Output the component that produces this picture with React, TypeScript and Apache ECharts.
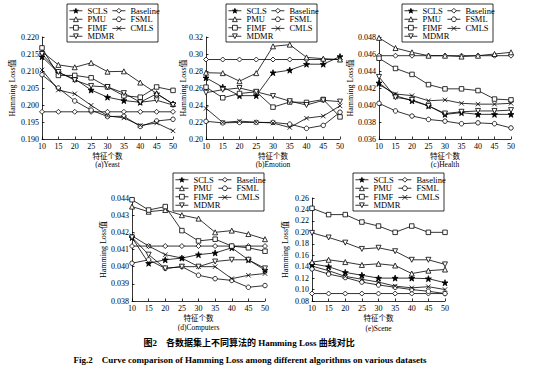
import React, { useEffect, useRef } from "react";
import * as echarts from "echarts";

// ---------- data ----------
const featureCounts = [10, 15, 20, 25, 30, 35, 40, 45, 50];

// (a) Yeast
const yeastSCLS = [0.2142, 0.2095, 0.2077, 0.2044, 0.2023, 0.2013, 0.2008, 0.2033, 0.2003];
const yeastBaseline = [0.198, 0.198, 0.198, 0.198, 0.198, 0.198, 0.198, 0.198, 0.198];
const yeastPMU = [0.2157, 0.2118, 0.2111, 0.2124, 0.2098, 0.2099, 0.2066, 0.2034, 0.2003];
const yeastFSML = [0.2089, 0.205, 0.2012, 0.1985, 0.1966, 0.1967, 0.1937, 0.1953, 0.1958];
const yeastFIMF = [0.2168, 0.2087, 0.2087, 0.208, 0.2053, 0.2027, 0.2023, 0.2053, 0.2043];
const yeastCMLS = [0.2103, 0.2044, 0.2033, 0.1999, 0.1968, 0.1962, 0.194, 0.1947, 0.1924];
const yeastMDMR = [0.215, 0.2097, 0.2073, 0.2056, 0.2053, 0.2035, 0.2008, 0.2014, 0.2];

// (b) Emotion
const emoSCLS = [0.272, 0.261, 0.251, 0.251, 0.278, 0.281, 0.288, 0.288, 0.297];
const emoBaseline = [0.2935, 0.2935, 0.2935, 0.2935, 0.2935, 0.2935, 0.2935, 0.2935, 0.2935];
const emoPMU = [0.278, 0.2775, 0.268, 0.2775, 0.309, 0.311, 0.296, 0.2945, 0.2935];
const emoFSML = [0.2208, 0.219, 0.2195, 0.2195, 0.2195, 0.2175, 0.2125, 0.216, 0.2315];
const emoFIMF = [0.261, 0.2485, 0.2535, 0.2555, 0.2375, 0.2435, 0.243, 0.2465, 0.226];
const emoCMLS = [0.236, 0.2195, 0.221, 0.2198, 0.2188, 0.2135, 0.2245, 0.227, 0.239];
const emoMDMR = [0.2545, 0.258, 0.26, 0.2555, 0.2505, 0.2445, 0.24, 0.2455, 0.244];

// (c) Health
const healthSCLS = [0.0426, 0.0411, 0.0405, 0.0399, 0.0389, 0.0391, 0.0389, 0.0389, 0.0389];
const healthBaseline = [0.0458, 0.0458, 0.0458, 0.0458, 0.0458, 0.0458, 0.0458, 0.0458, 0.0458];
const healthPMU = [0.0479, 0.0467, 0.0462, 0.0458, 0.0458, 0.0457, 0.0458, 0.046, 0.0462];
const healthFSML = [0.0402, 0.0393, 0.0387, 0.0383, 0.0381, 0.0378, 0.0379, 0.0378, 0.0373];
const healthFIMF = [0.0455, 0.0443, 0.0436, 0.0424, 0.0419, 0.0419, 0.0417, 0.0407, 0.0406];
const healthCMLS = [0.0424, 0.0413, 0.0411, 0.0405, 0.0406, 0.0402, 0.0401, 0.0401, 0.0402];
const healthMDMR = [0.0433, 0.0409, 0.0406, 0.0399, 0.039, 0.0392, 0.0393, 0.0393, 0.0394];

// (d) Computers
const compSCLS = [0.0417, 0.0402, 0.0404, 0.0405, 0.0407, 0.0408, 0.0411, 0.0404, 0.0398];
const compBaseline = [0.0412, 0.0412, 0.0412, 0.0412, 0.0412, 0.0412, 0.0412, 0.0412, 0.0412];
const compPMU = [0.0435, 0.0432, 0.0433, 0.043, 0.0428, 0.042, 0.0421, 0.0419, 0.0416];
const compFSML = [0.0402, 0.0404, 0.0399, 0.04, 0.0395, 0.0393, 0.0392, 0.0388, 0.0389];
const compFIMF = [0.0439, 0.0433, 0.0435, 0.0421, 0.0415, 0.0416, 0.0412, 0.0411, 0.0409];
const compCMLS = [0.0418, 0.0412, 0.0407, 0.0405, 0.04, 0.04, 0.0393, 0.0395, 0.0396];
const compMDMR = [0.0417, 0.0407, 0.0399, 0.04, 0.04, 0.0403, 0.0404, 0.0404, 0.0399];

// (e) Scene
const sceneSCLS = [0.145, 0.14, 0.13, 0.125, 0.12, 0.12, 0.12, 0.119, 0.112];
const sceneBaseline = [0.093, 0.093, 0.093, 0.093, 0.093, 0.093, 0.093, 0.093, 0.093];
const scenePMU = [0.148, 0.152, 0.148, 0.143, 0.145, 0.142, 0.128, 0.133, 0.135];
const sceneFSML = [0.136, 0.127, 0.121, 0.113, 0.108, 0.104, 0.1, 0.097, 0.093];
const sceneFIMF = [0.242, 0.231, 0.231, 0.218, 0.211, 0.2, 0.211, 0.2, 0.2];
const sceneCMLS = [0.141, 0.133, 0.123, 0.118, 0.113, 0.106, 0.103, 0.105, 0.1];
const sceneMDMR = [0.199, 0.191, 0.182, 0.171, 0.173, 0.167, 0.152, 0.152, 0.144];

const seriesNames = ["SCLS", "Baseline", "PMU", "FSML", "FIMF", "CMLS", "MDMR"];
const legendLeftNames = ["SCLS", "PMU", "FIMF", "MDMR"];
const legendRightNames = ["Baseline", "FSML", "CMLS"];

const panelTitles = ["(a)Yeast", "(b)Emotion", "(c)Health", "(d)Computers", "(e)Scene"];
const xAxisTitle = "特征个数";
const yAxisTitle = "Hamming Loss值";
const captionCn = "图2    各数据集上不同算法的 Hamming Loss 曲线对比";
const captionEn = "Fig.2    Curve comparison of Hamming Loss among different algorithms on various datasets";

// ---------- styles ----------
const FONT = '"Liberation Serif", "Times New Roman", "Noto Sans CJK SC", serif';
const STAR =
  "path://M0,-10L2.35,-3.24L9.51,-3.09L3.8,1.24L5.88,8.09L0,4L-5.88,8.09L-3.8,1.24L-9.51,-3.09L-2.35,-3.24Z";
const XMARK = "path://M0,0L10,10M10,0L0,10";
const INVTRI = "path://M0,0L10,0L5,9Z";

const markerStyles: Record<string, { symbol: string; fill: string; size: number }> = {
  SCLS: { symbol: STAR, fill: "#000", size: 6 },
  Baseline: { symbol: "diamond", fill: "#fff", size: 5 },
  PMU: { symbol: "triangle", fill: "#fff", size: 5 },
  FSML: { symbol: "circle", fill: "#fff", size: 4.5 },
  FIMF: { symbol: "rect", fill: "#fff", size: 4.5 },
  CMLS: { symbol: XMARK, fill: "none", size: 4.5 },
  MDMR: { symbol: INVTRI, fill: "#fff", size: 5 },
};

type Panel = {
  data: number[][];
  grid: { left: number; top: number; width: number; height: number };
  min: number;
  max: number;
  interval: number;
  dec: number;
  box: [number, number];
  yNameX: number;
  xNameY: number;
  subY: number;
};

const panels: Panel[] = [
  {
    data: [yeastSCLS, yeastBaseline, yeastPMU, yeastFSML, yeastFIMF, yeastCMLS, yeastMDMR],
    grid: { left: 42, top: 37, width: 131, height: 102 },
    min: 0.19, max: 0.22, interval: 0.005, dec: 3,
    box: [67, 4], yNameX: 12, xNameY: 156, subY: 164,
  },
  {
    data: [emoSCLS, emoBaseline, emoPMU, emoFSML, emoFIMF, emoCMLS, emoMDMR],
    grid: { left: 206, top: 37, width: 134, height: 102 },
    min: 0.2, max: 0.32, interval: 0.02, dec: 2,
    box: [226, 4], yNameX: 183, xNameY: 156, subY: 164,
  },
  {
    data: [healthSCLS, healthBaseline, healthPMU, healthFSML, healthFIMF, healthCMLS, healthMDMR],
    grid: { left: 379, top: 37, width: 132, height: 102 },
    min: 0.036, max: 0.048, interval: 0.002, dec: 3,
    box: [402, 4], yNameX: 350, xNameY: 156, subY: 164,
  },
  {
    data: [compSCLS, compBaseline, compPMU, compFSML, compFIMF, compCMLS, compMDMR],
    grid: { left: 132, top: 198, width: 133, height: 103 },
    min: 0.038, max: 0.044, interval: 0.001, dec: 3,
    box: [173, 173], yNameX: 103, xNameY: 318, subY: 327,
  },
  {
    data: [sceneSCLS, sceneBaseline, scenePMU, sceneFSML, sceneFIMF, sceneCMLS, sceneMDMR],
    grid: { left: 312, top: 198, width: 133, height: 103 },
    min: 0.08, max: 0.26, interval: 0.02, dec: 2,
    box: [353, 173], yNameX: 285, xNameY: 318, subY: 328,
  },
];

const BOX_W = 91;
const BOX_H = 38;

function legendItems(names: string[]) {
  return names.map((name) => {
    const st = markerStyles[name];
    return {
      name,
      itemStyle: { color: st.fill, borderColor: "#000", borderWidth: 0.8 },
      lineStyle: { color: "#000", width: 0.8 },
    };
  });
}

export default function App() {
  const ref = useRef<HTMLDivElement>(null);

  useEffect(() => {
    if (!ref.current) return;
    const chart = echarts.init(ref.current, null, { renderer: "svg" });

    const grids: any[] = [];
    const xAxes: any[] = [];
    const yAxes: any[] = [];
    const series: any[] = [];
    const legends: any[] = [];
    const graphics: any[] = [];

    const legendText = { fontSize: 8.5, lineHeight: 8.4, fontFamily: FONT, color: "#000" };

    panels.forEach((p, i) => {
      grids.push({ ...p.grid, containLabel: false });
      xAxes.push({
        type: "value",
        gridIndex: i,
        min: 10,
        max: 50,
        interval: 5,
        splitLine: { show: false },
        axisLine: { lineStyle: { color: "#000", width: 0.8 } },
        axisTick: { inside: true, length: 2.5, lineStyle: { color: "#000", width: 0.8 } },
        axisLabel: { fontSize: 8, fontFamily: FONT, color: "#000", margin: 3 },
      });
      yAxes.push({
        type: "value",
        gridIndex: i,
        min: p.min,
        max: p.max,
        interval: p.interval,
        splitLine: { show: false },
        axisLine: { show: true, lineStyle: { color: "#000", width: 0.8 } },
        axisTick: { show: true, inside: true, length: 2.5, lineStyle: { color: "#000", width: 0.8 } },
        axisLabel: {
          fontSize: 8,
          fontFamily: FONT,
          color: "#000",
          margin: 3,
          formatter: (v: number) => v.toFixed(p.dec),
        },
      });

      seriesNames.forEach((name, k) => {
        const st = markerStyles[name];
        series.push({
          type: "line",
          name,
          xAxisIndex: i,
          yAxisIndex: i,
          data: featureCounts.map((x, j) => [x, p.data[k][j]]),
          symbol: st.symbol,
          symbolSize: st.size,
          showSymbol: true,
          itemStyle: { color: st.fill, borderColor: "#000", borderWidth: 0.8 },
          lineStyle: { color: "#000", width: 0.8 },
          emphasis: { disabled: true },
          silent: true,
        });
      });

      const [bx, by] = p.box;
      const common = {
        orient: "vertical",
        top: by + 2.5,
        padding: 0,
        itemGap: 0,
        itemWidth: 13,
        itemHeight: 6,
        selectedMode: false,
        textStyle: legendText,
      };
      legends.push({ ...common, left: bx + 2, data: legendItems(legendLeftNames) });
      legends.push({ ...common, left: bx + 45, data: legendItems(legendRightNames) });

      graphics.push({
        type: "rect",
        shape: { x: bx, y: by, width: BOX_W, height: BOX_H },
        style: { fill: "rgba(0,0,0,0)", stroke: "#000", lineWidth: 0.8 },
        z: 10,
        silent: true,
      });

      const cx = p.grid.left + p.grid.width / 2;
      graphics.push({
        type: "text",
        x: p.yNameX,
        y: p.grid.top + p.grid.height / 2,
        rotation: Math.PI / 2,
        style: {
          text: yAxisTitle,
          font: `8px ${FONT}`,
          fill: "#000",
          align: "center",
          textAlign: "center",
          verticalAlign: "middle",
          textVerticalAlign: "middle",
        },
        silent: true,
      });
      graphics.push({
        type: "text",
        x: cx,
        y: p.xNameY,
        style: {
          text: xAxisTitle,
          font: `7.5px ${FONT}`,
          fill: "#000",
          align: "center",
          textAlign: "center",
          verticalAlign: "middle",
          textVerticalAlign: "middle",
        },
        silent: true,
      });
      graphics.push({
        type: "text",
        x: cx,
        y: p.subY,
        style: {
          text: panelTitles[i],
          font: `7.5px ${FONT}`,
          fill: "#000",
          align: "center",
          textAlign: "center",
          verticalAlign: "middle",
          textVerticalAlign: "middle",
        },
        silent: true,
      });
    });

    graphics.push({
      type: "text",
      x: 249,
      y: 343,
      style: {
        text: captionCn,
        font: `bold 9px ${FONT}`,
        fill: "#000",
        align: "center",
        textAlign: "center",
        verticalAlign: "middle",
        textVerticalAlign: "middle",
      },
      silent: true,
    });
    graphics.push({
      type: "text",
      x: 250,
      y: 360,
      style: {
        text: captionEn,
        font: `bold 9px ${FONT}`,
        fill: "#000",
        align: "center",
        textAlign: "center",
        verticalAlign: "middle",
        textVerticalAlign: "middle",
      },
      silent: true,
    });

    chart.setOption({
      animation: false,
      backgroundColor: "#fff",
      textStyle: { fontFamily: FONT },
      grid: grids,
      xAxis: xAxes,
      yAxis: yAxes,
      legend: legends,
      series,
      graphic: { elements: graphics },
    });

    return () => chart.dispose();
  }, []);

  return (
    <div
      ref={ref}
      style={{ position: "fixed", left: 0, top: 0, width: 545, height: 372, background: "#fff" }}
    />
  );
}
